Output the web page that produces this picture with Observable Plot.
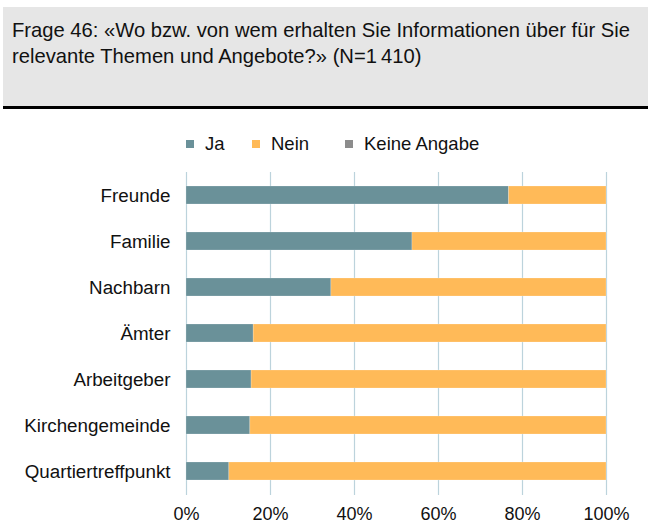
<!DOCTYPE html>
<html>
<head>
<meta charset="utf-8">
<script src="https://cdn.jsdelivr.net/npm/d3@7"></script>
<script src="https://cdn.jsdelivr.net/npm/@observablehq/plot@0.6"></script>
<style>
  html, body { margin: 0; padding: 0; background: #fff; width: 648px; height: 525px; overflow: hidden; font-family: "Liberation Sans", Arial, sans-serif; }
  #header { position: absolute; left: 3px; top: 7px; width: 645px; height: 99px; background: #e6e6e6; border-bottom: 3px solid #000; box-sizing: content-box; }
  #header p { margin: 0; position: absolute; left: 9px; top: 10px; font-size: 20.2px; line-height: 26px; color: #111; white-space: nowrap; }
  #legend { position: absolute; top: 133px; left: 0; width: 648px; height: 22px; font-size: 18.5px; color: #111; }
  .li { position: absolute; top: 0; display: flex; align-items: center; height: 22px; }
  .sw { width: 8px; height: 8px; display: inline-block; margin-right: 11px; }
  #chart { position: absolute; left: 0; top: 165px; }
</style>
</head>
<body>
<div id="header"><p>Frage 46: «Wo bzw. von wem erhalten Sie Informationen über für Sie<br>relevante Themen und Angebote?» (N=1&#8201;410)</p></div>
<div id="legend"></div>
<div id="chart"></div>
<script>
const categories = ["Freunde", "Familie", "Nachbarn", "Ämter", "Arbeitgeber", "Kirchengemeinde", "Quartiertreffpunkt"];
const seriesNames = ["Ja", "Nein", "Keine Angabe"];
const seriesColors = ["#6a9199", "#ffba58", "#8c8c8c"];
const ja = [76.8, 53.8, 34.5, 16.0, 15.5, 15.2, 10.2];
const nein = [23.2, 46.2, 65.5, 84.0, 84.5, 84.8, 89.8];
const keineAngabe = [0, 0, 0, 0, 0, 0, 0];
const xTicks = [0, 20, 40, 60, 80, 100];

const values = [ja, nein, keineAngabe];
const data = [];
categories.forEach((c, i) => {
  seriesNames.forEach((s, j) => {
    data.push({category: c, series: s, value: values[j][i]});
  });
});

// legend
const legendX = [186, 252, 345];
const legend = document.getElementById("legend");
seriesNames.forEach((s, j) => {
  const d = document.createElement("div");
  d.className = "li";
  d.style.left = legendX[j] + "px";
  d.innerHTML = `<span class="sw" style="background:${seriesColors[j]}"></span><span>${s}</span>`;
  legend.appendChild(d);
});

const chart = Plot.plot({
  width: 648,
  height: 360,
  marginLeft: 186,
  marginRight: 42,
  marginTop: 7,
  marginBottom: 30,
  style: {fontFamily: "'Liberation Sans', Arial, sans-serif", fontSize: "18px", color: "#111", background: "transparent"},
  x: {domain: [0, 100], label: null},
  y: {domain: categories, label: null, paddingInner: 0.6, paddingOuter: 0.3},
  color: {domain: seriesNames, range: seriesColors},
  marks: [
    Plot.gridX(xTicks, {stroke: "#bcd3dc", strokeOpacity: 1, strokeWidth: 1.2}),
    Plot.barX(data, Plot.stackX({x: "value", y: "category", fill: "series", order: seriesNames, stroke: "#fff", strokeOpacity: 0.25, strokeWidth: 0.8})),
    Plot.axisX({ticks: xTicks, tickFormat: d => d + "%", tickSize: 0, tickPadding: 12, label: null, fontSize: 18}),
    Plot.axisY({tickSize: 0, tickPadding: 16, label: null, fontSize: 18.8})
  ]
});
document.getElementById("chart").appendChild(chart);
</script>
</body>
</html>
